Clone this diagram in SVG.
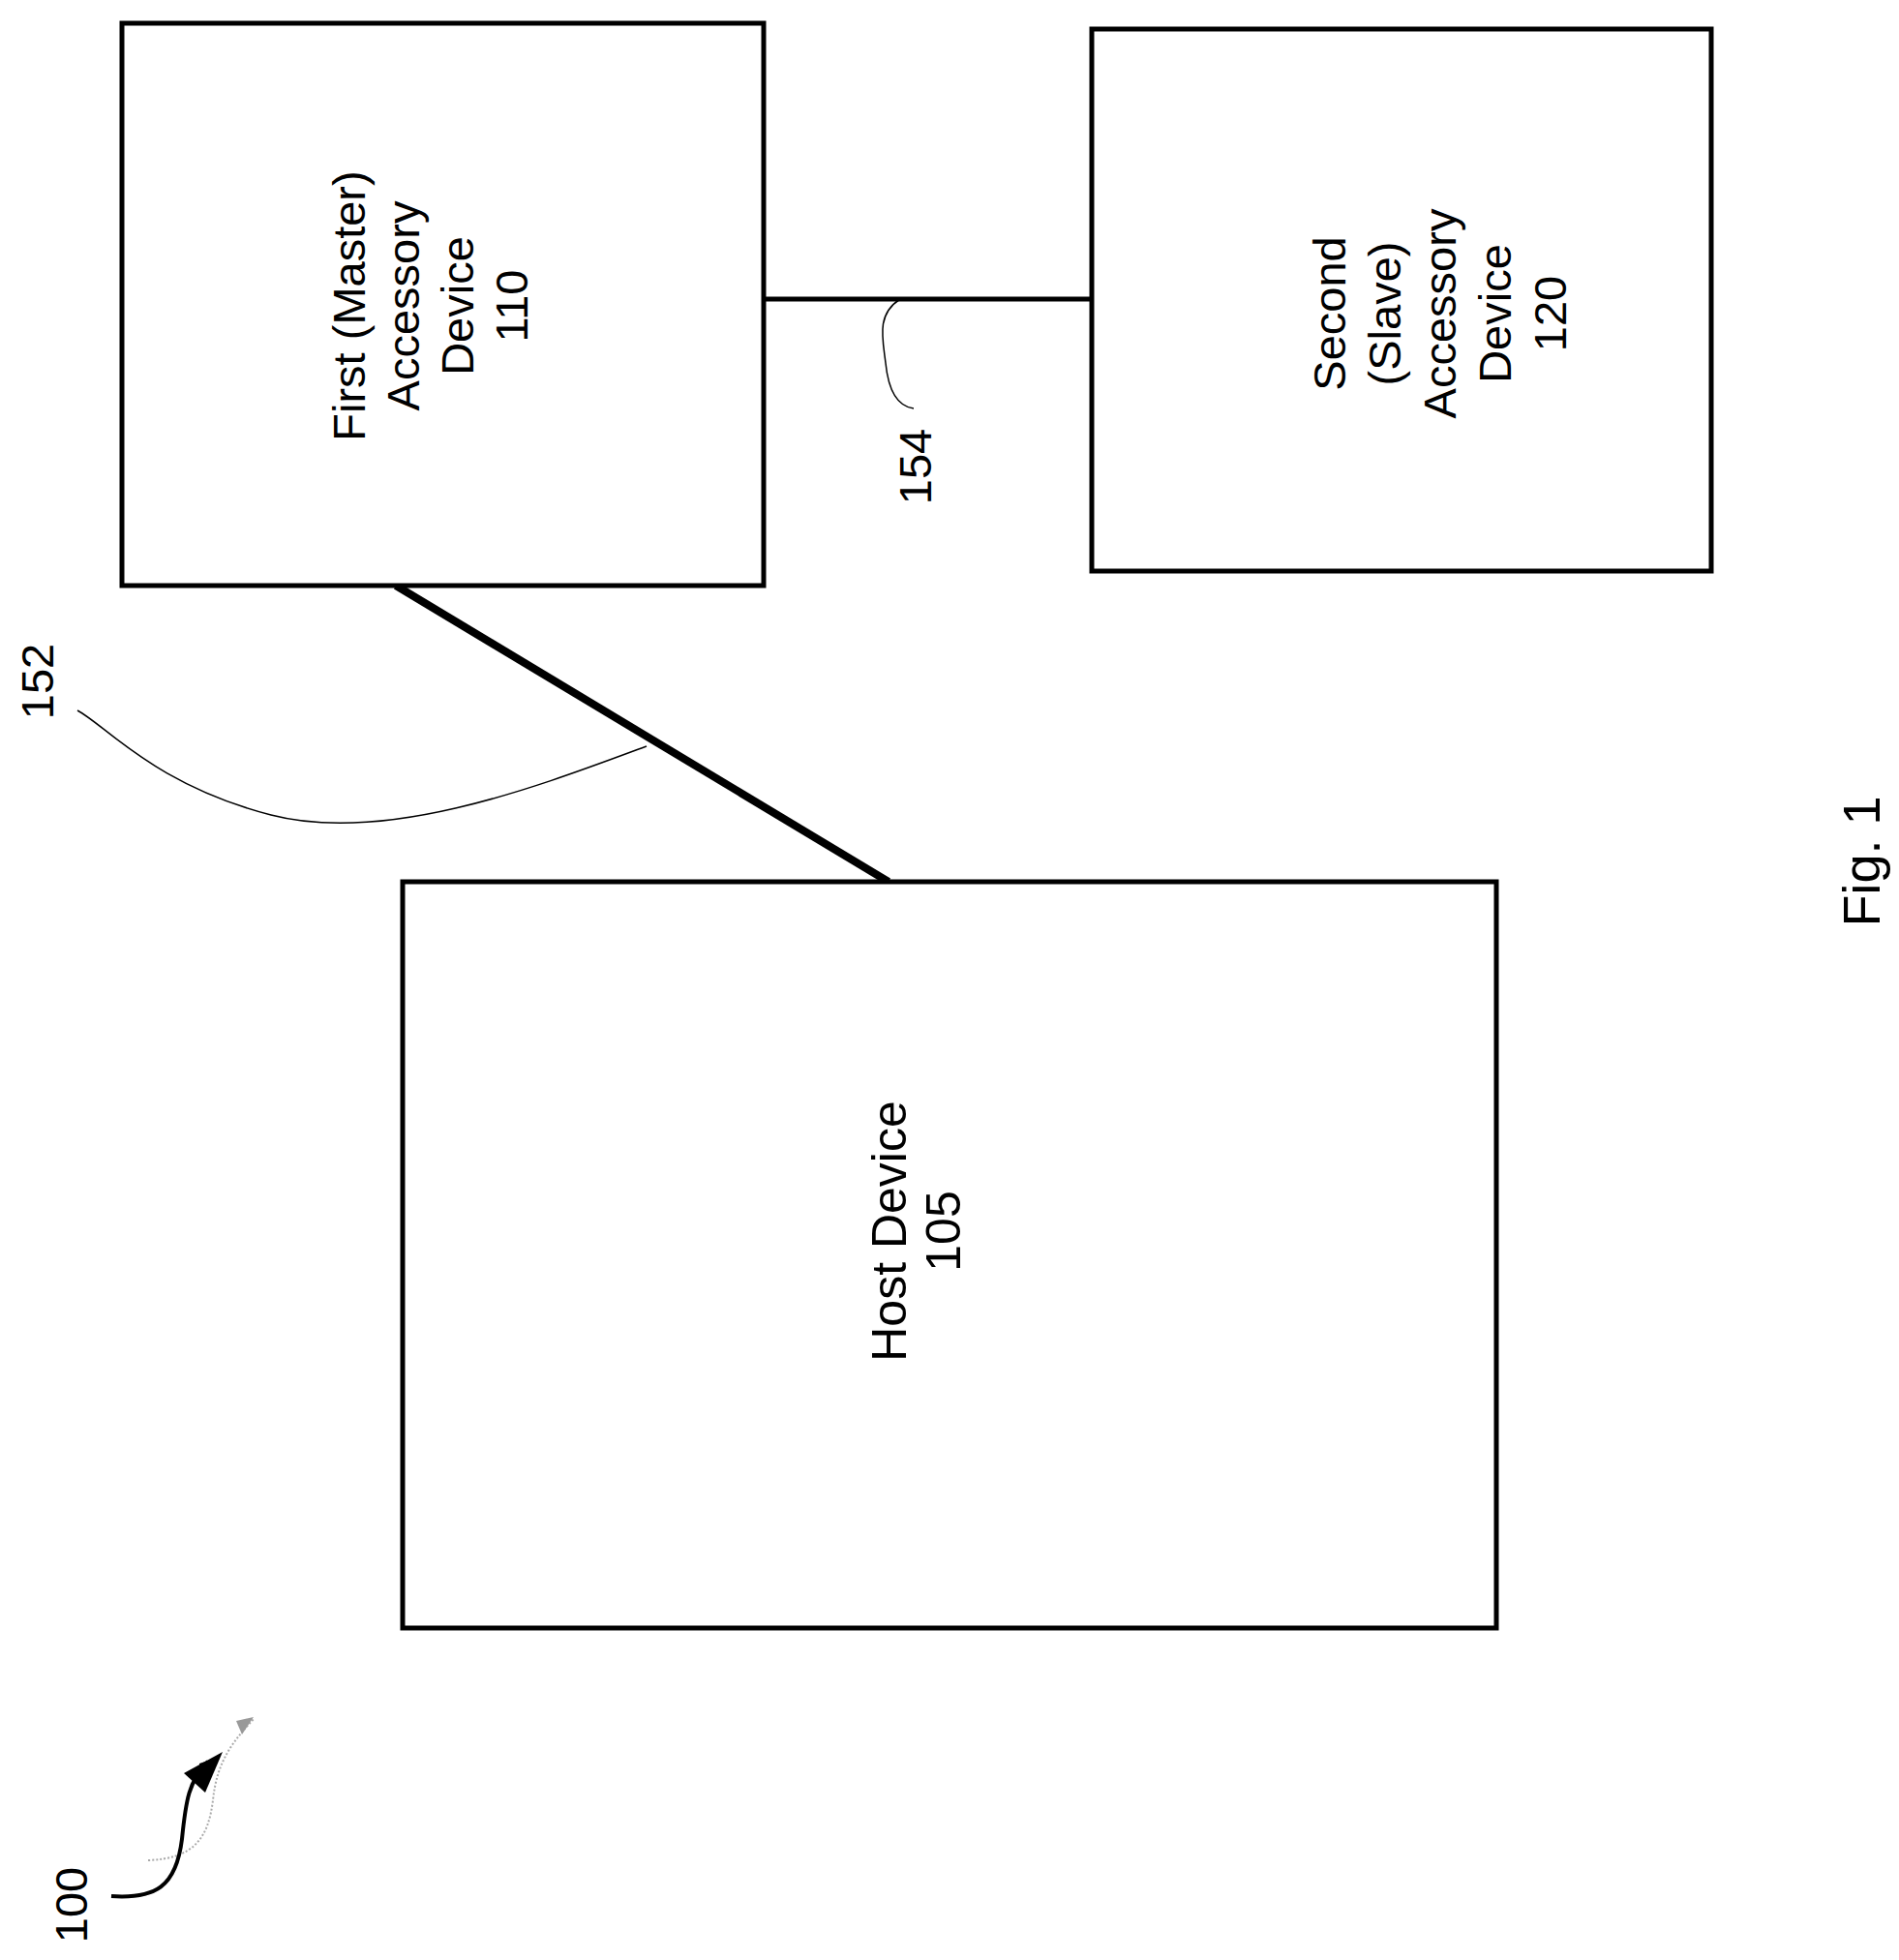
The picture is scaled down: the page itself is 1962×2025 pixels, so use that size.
<svg xmlns="http://www.w3.org/2000/svg" width="1962" height="2025" viewBox="0 0 1962 2025">
<style>
.box{fill:#fff;stroke:#000;stroke-width:5}
text{font-family:"Liberation Sans",Arial,sans-serif;font-size:47px;fill:#000;text-anchor:middle}
.lead{fill:none;stroke:#000;stroke-width:1.5}
</style>
<defs><marker id="ah" markerWidth="10" markerHeight="10" refX="8" refY="5" orient="auto" markerUnits="userSpaceOnUse" viewBox="0 0 10 10"><path d="M0,0 L10,5 L0,10z" fill="#000"/></marker></defs>
<rect width="1962" height="2025" fill="#fff"/>
<g id="connectors">
<line x1="789" y1="309" x2="1128" y2="309" stroke="#000" stroke-width="5"/>
<line x1="409" y1="605" x2="918" y2="911" stroke="#000" stroke-width="8"/>
<path class="lead" d="M668,771 C560,811 400,873 280,842 C160,811 110,750 80,734"/>
<path class="lead" d="M930,309 C905,325 912,350 915,375 C918,405 928,420 944,422"/>
</g>
<g id="n110"><rect class="box" x="126" y="24" width="663" height="581"/>
<g transform="translate(445,316) rotate(-90)"><text y="-68">First (Master)</text><text y="-12">Accessory</text><text y="44">Device</text><text y="100">110</text></g></g>
<g id="n120"><rect class="box" x="1128" y="30" width="640" height="560"/>
<g transform="translate(1488,324) rotate(-90)"><text y="-98">Second</text><text y="-41">(Slave)</text><text y="16">Accessory</text><text y="73">Device</text><text y="130">120</text></g></g>
<g id="n105"><rect class="box" x="416" y="911" width="1130" height="771"/>
<g transform="translate(948,1272) rotate(-90)"><text y="-12" style="font-size:50px">Host Device</text><text y="44" style="font-size:50px">105</text></g></g>
<text transform="translate(962,482) rotate(-90)">154</text>
<text transform="translate(55,704) rotate(-90)">152</text>
<text transform="translate(1942,890) rotate(-90)" style="font-size:54px">Fig. 1</text>
<text transform="translate(90,1968) rotate(-90)">100</text>
<g id="ref100">
<path d="M153,1922 C200,1920 215,1900 220,1860 C224,1820 240,1800 262,1776" fill="none" stroke="#aaa" stroke-width="2" stroke-dasharray="2,2"/>
<path d="M262,1774 L244,1778 L250,1792z" fill="#999"/>
<path d="M115,1959 C160,1962 182,1950 188,1900 C192,1860 195,1840 215,1820" fill="none" stroke="#000" stroke-width="4" marker-end="url(#ah)"/>
<path d="M230,1810 L190,1832 L212,1852z" fill="#000"/>
</g>
</svg>
